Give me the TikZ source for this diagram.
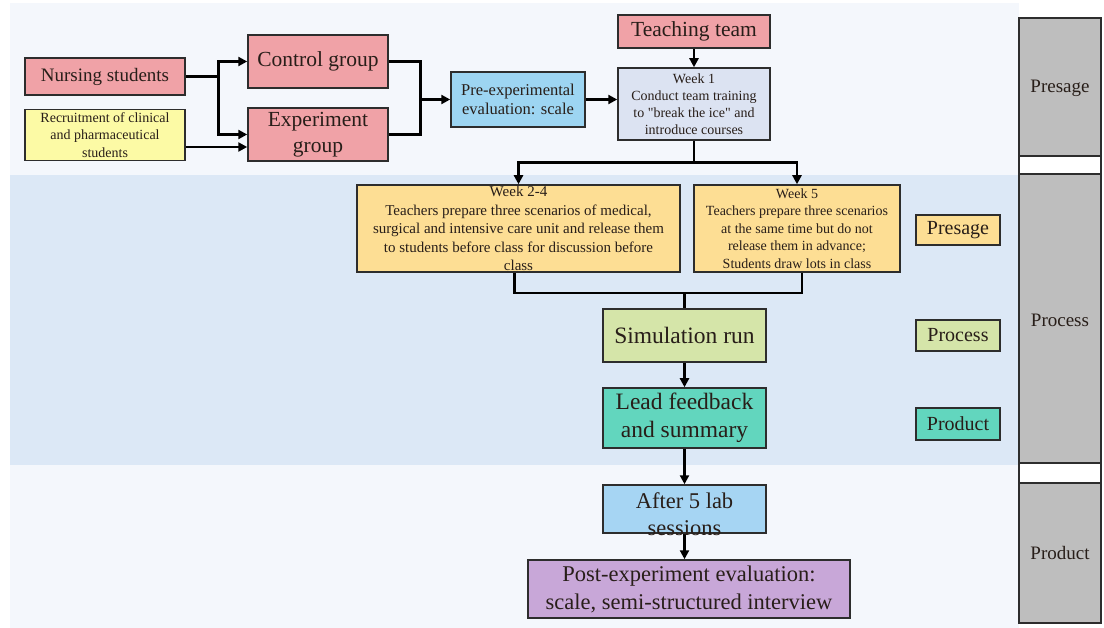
\documentclass[tikz,border=0pt]{standalone}
\usepackage{fontspec}
\setmainfont{Liberation Serif}
\usetikzlibrary{arrows.meta}
\definecolor{pinkc}{RGB}{240,162,167}
\definecolor{yellowc}{RGB}{252,250,165}
\definecolor{bluec}{RGB}{157,213,242}
\definecolor{lavc}{RGB}{220,227,242}
\definecolor{orangec}{RGB}{253,222,148}
\definecolor{greenc}{RGB}{213,229,169}
\definecolor{tealc}{RGB}{98,214,190}
\definecolor{afterc}{RGB}{166,213,243}
\definecolor{purplec}{RGB}{200,167,216}
\definecolor{grayc}{RGB}{190,190,190}
\definecolor{bgtop}{RGB}{244,247,252}
\definecolor{bgmid}{RGB}{220,232,246}
\definecolor{edgec}{RGB}{45,45,45}
\definecolor{txtc}{RGB}{40,30,25}
\tikzset{
  box/.style={draw=edgec, line width=1.5pt, inner sep=0pt, align=center, text=txtc},
  conn/.style={line width=2.6pt, black},
  arr/.style={conn, -{Triangle[length=9pt,width=9pt]}},
  legend/.style={box, minimum width=84pt, font=\fontsize{20}{22}\selectfont},
  side/.style={text=txtc, font=\fontsize{19}{22}\selectfont},
}
\begin{document}
\begin{tikzpicture}[x=1pt,y=-1pt]
\useasboundingbox (0,0) rectangle (1104,628);
\fill[white] (0,0) rectangle (1104,628);
\fill[bgtop] (10,3) rectangle (1019,175);
\fill[bgmid] (10,175) rectangle (1019,465);
\fill[bgtop] (10,465) rectangle (1019,628);
% gray column
\draw[edgec, line width=1.3pt, fill=grayc] (1019,18) rectangle (1101,623);
\draw[edgec, line width=1.3pt, fill=white] (1019,156) rectangle (1101,174);
\draw[edgec, line width=1.3pt, fill=white] (1019,463) rectangle (1101,483);
\node[side] (gPre) at (1060,88) {Presage};
\node[side] (gPro) at (1060,320) {Process};
\node[side] (gProd) at (1060,553) {Product};

% nodes
\node[box, fill=pinkc, minimum width=160pt, minimum height=37pt, font=\fontsize{19}{22}\selectfont] (ns) at (105,76.5) {Nursing students};
\node[box, fill=yellowc, minimum width=160pt, minimum height=51pt, font=\fontsize{14}{17.5}\selectfont] (rc) at (105,135) {Recruitment of clinical\\and pharmaceutical\\students};
\node[box, fill=pinkc, minimum width=140pt, minimum height=53pt, font=\fontsize{21.5}{24}\selectfont] (cg) at (318,61.5) {Control group};
\node[box, fill=pinkc, minimum width=140pt, minimum height=53pt, font=\fontsize{21.5}{26}\selectfont] (eg) at (318,134.5) {Experiment\\group};
\node[box, fill=bluec, minimum width=134pt, minimum height=55pt, font=\fontsize{16.5}{19}\selectfont] (pe) at (518,99.5) {Pre-experimental\\evaluation: scale};
\node[box, fill=pinkc, minimum width=152pt, minimum height=33pt, font=\fontsize{21.5}{24}\selectfont] (tt) at (694,31.5) {Teaching team};
\node[box, fill=lavc, minimum width=152pt, minimum height=72pt, font=\fontsize{14}{17}\selectfont] (w1) at (694,104) {Week 1\\Conduct team training\\to \textquotedbl break the ice\textquotedbl{} and\\introduce courses};
\node[box, fill=orangec, minimum width=323pt, minimum height=87pt, font=\fontsize{15}{18.5}\selectfont] (w24) at (518.5,228.5) {Week 2-4\\Teachers prepare three scenarios of medical,\\surgical and intensive care unit and release them\\to students before class for discussion before\\class};
\node[box, fill=orangec, minimum width=206pt, minimum height=87pt, font=\fontsize{14}{17.5}\selectfont] (w5) at (797,228.5) {Week 5\\Teachers prepare three scenarios\\at the same time but do not\\release them in advance;\\Students draw lots in class};
\node[legend, fill=orangec, minimum height=30pt] (lPre) at (958,230) {Presage};
\node[box, fill=greenc, minimum width=163pt, minimum height=53pt, font=\fontsize{23.5}{26}\selectfont] (sim) at (684.5,335.5) {Simulation run};
\node[legend, fill=greenc, minimum height=31pt] (lPro) at (958,335.5) {Process};
\node[box, fill=tealc, minimum width=163pt, minimum height=60pt, font=\fontsize{23.5}{28}\selectfont] (lf) at (684.5,418) {Lead feedback\\and summary};
\node[legend, fill=tealc, minimum height=32pt] (lProd) at (958,424) {Product};
\node[box, fill=afterc, minimum width=163pt, minimum height=48pt] (af) at (684.5,509) {};
\node[box, fill=purplec, minimum width=322pt, minimum height=58pt, font=\fontsize{22.5}{28}\selectfont] (po) at (689,589) {Post-experiment evaluation:\\scale, semi-structured interview};

% connectors
\draw[conn] (ns.east) -- ++(33,0) coordinate (b1);
\draw[arr] (b1) |- (cg.west);
\draw[arr] (b1) |- (eg.west);
\draw[arr] ([yshift=-12pt]rc.east) -- ([yshift=-12pt]rc.east -| eg.west);
\draw[conn] (cg.east) -- ++(32,0) coordinate (m1) -- (m1 |- eg.east) -- (eg.east);
\draw[arr] (m1 |- pe.west) -- (pe.west);
\draw[arr] (pe.east) -- (pe.east -| w1.west);
\draw[arr] (tt.south) -- (w1.north);
\draw[conn] (w1.south) -- ++(0,22) coordinate (s1);
\draw[arr] (s1) -| (w24.north);
\draw[arr] (s1) -| (w5.north);
\coordinate (j) at (sim.north |- 0,293);
\draw[conn] ([xshift=-4pt]w24.south) |- (j) -| ([xshift=5pt]w5.south);
\draw[conn] (j) -- (sim.north);
\draw[arr] (sim.south) -- (lf.north);
\draw[arr] (lf.south) -- (af.north);
\draw[arr] (af.south) -- (af.south |- po.north);
% text of the "After 5 lab" box, over the connector as in the reference
\node[align=center, text=txtc, inner sep=0pt, font=\fontsize{22.5}{27}\selectfont] (afT) at (684.5,514) {After 5 lab\\sessions};
\end{tikzpicture}
\end{document}
